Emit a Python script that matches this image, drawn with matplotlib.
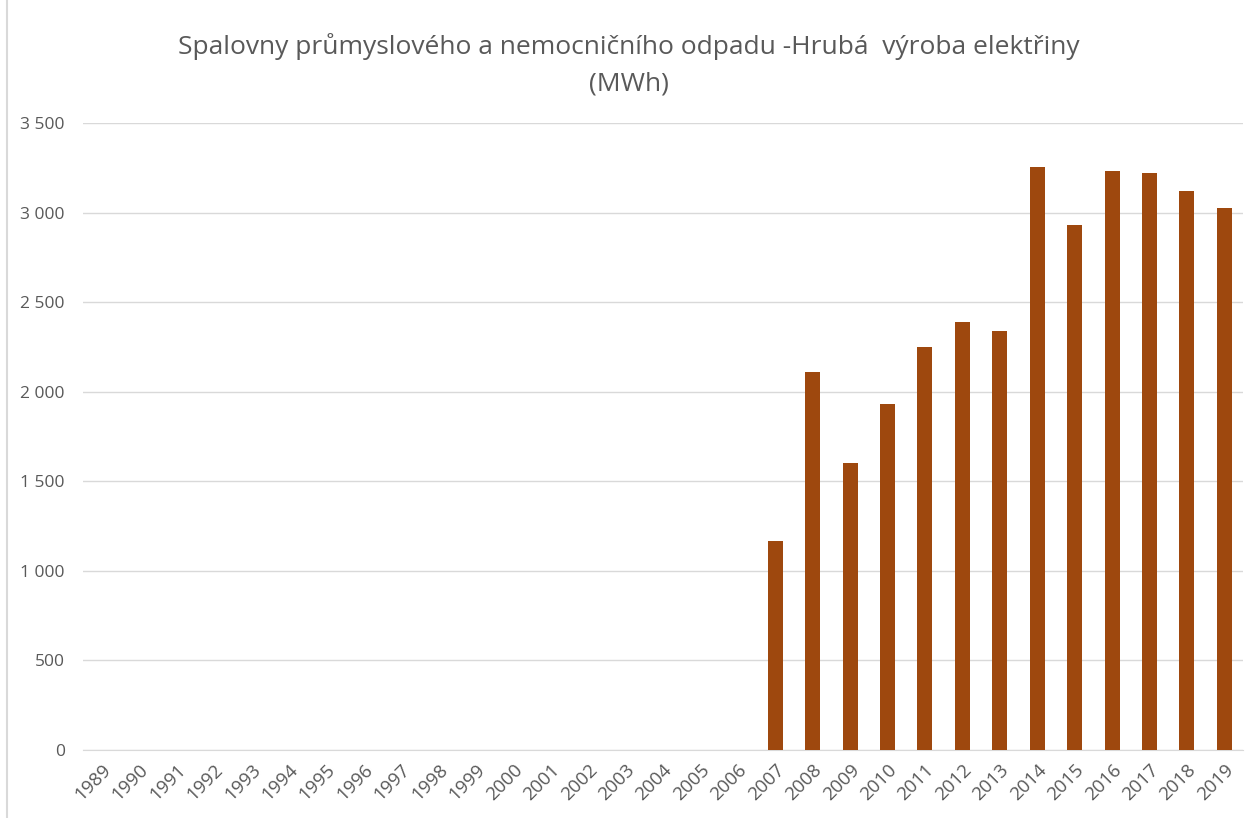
import matplotlib
matplotlib.use("Agg")
import matplotlib.pyplot as plt
from matplotlib.ticker import FuncFormatter
from matplotlib.lines import Line2D

years = [str(y) for y in range(1989, 2020)]
values = [0]*18 + [1169, 2110, 1603, 1930, 2252, 2390, 2341, 3257, 2933,
                   3232, 3221, 3119, 3028]
title = "Spalovny průmyslového a nemocničního odpadu -Hrubá  výroba elektřiny\n(MWh)"
yticks = [0, 500, 1000, 1500, 2000, 2500, 3000, 3500]

plt.rcParams['font.family'] = ['Open Sans', 'DejaVu Sans']
fig = plt.figure(figsize=(12.57, 8.18), dpi=100)
ax = fig.add_axes([83/1257, 1-750/818, (1243-83)/1257, (750-123)/818])

x = range(len(years))
ax.bar(x, values, width=0.4, color='#9E480E', zorder=3)
ax.set_xlim(-0.5, len(years)-0.5)
ax.set_ylim(0, 3500)
ax.set_yticks(yticks)
ax.yaxis.set_major_formatter(FuncFormatter(lambda v, p: f"{int(v):,}".replace(",", " ")))
ax.set_xticks(list(x))
ax.set_xticklabels(years, rotation=45, ha='right', rotation_mode='anchor')
ax.grid(axis='y', color='#D9D9D9', linewidth=1, zorder=0)
for s in ['top', 'right', 'left']:
    ax.spines[s].set_visible(False)
ax.spines['bottom'].set_color('#D9D9D9')
ax.tick_params(axis='both', length=0, colors='#595959', labelsize=12.5)
ax.tick_params(axis='x', labelsize=13.5)
ax.tick_params(axis='y', pad=13)
ax.tick_params(axis='x', pad=8)

fig.text(0.5, 0.96, title, ha='center', va='top', fontsize=19, color='#595959',
         linespacing=1.6)
fig.add_artist(Line2D([7/1257, 7/1257], [0, 1], color='#D9D9D9', linewidth=1.5))

fig.savefig("out.png", dpi=100)
